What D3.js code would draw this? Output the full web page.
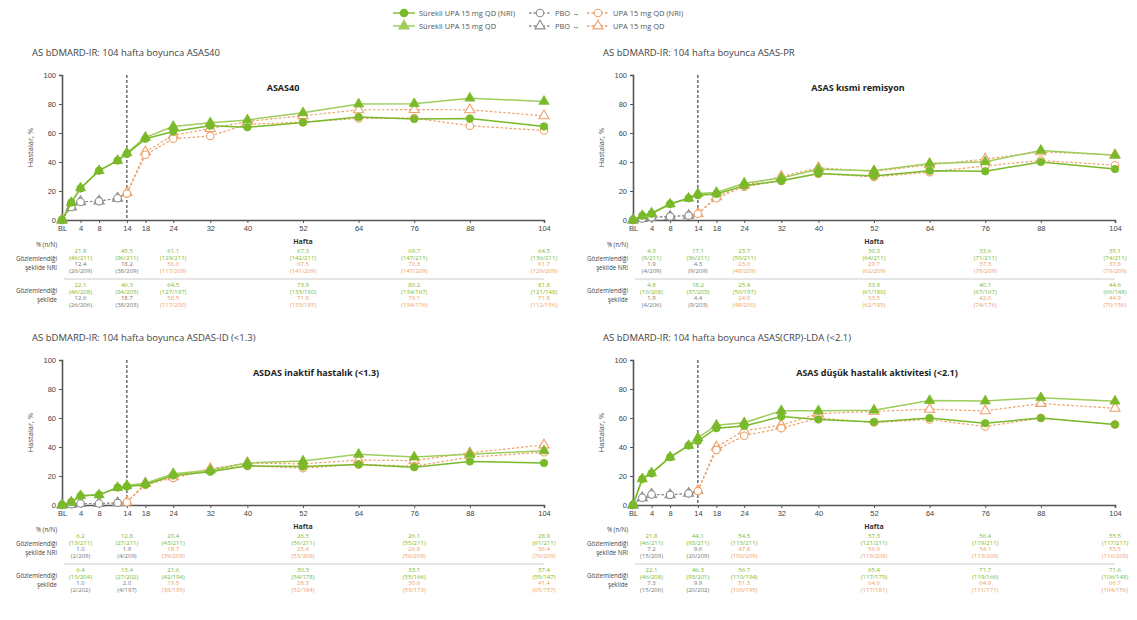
<!DOCTYPE html>
<html>
<head>
<meta charset="utf-8">
<script src="https://cdn.jsdelivr.net/npm/d3@7"></script>
<style>
  body { margin: 0; background: #fff; }
  svg { font-family: "Open Sans", "Liberation Sans", sans-serif; }
  .axis path, .axis line { stroke: #555; }
  .axis text { fill: #444; font-size: 7.5px; }
</style>
</head>
<body>
<div id="chart"></div>
<script>
// hafta ekseni
const weeks = [0, 2, 4, 8, 12, 14, 18, 24, 32, 40, 52, 64, 76, 88, 104];
const tickWeeks = [0, 4, 8, 14, 18, 24, 32, 40, 52, 64, 76, 88, 104];
const tickLabels = ["BL", "4", "8", "14", "18", "24", "32", "40", "52", "64", "76", "88", "104"];
const yTicks = [0, 20, 40, 60, 80, 100];
const tableWeeks = [4, 14, 24, 52, 76, 104];
const switchWeek = 14;

// ASAS40
const asas40UpaNri = [0, 12, 21.8, 34, 41, 45.5, 56, 61.1, 65, 64, 67.3, 71, 69.7, 70, 64.5];
const asas40UpaAo  = [0, 12, 22.1, 34, 41, 46.3, 57, 64.5, 67, 69, 73.9, 80, 80.2, 84, 81.8];
const asas40PboNri = [0, 9, 12.4, 13, 15, 18.2, 45, 56.0, 58, 66, 67.5, 70, 70.3, 65, 61.7];
const asas40PboAo  = [0, 9, 12.6, 13, 15, 18.7, 47, 58.5, 63, 68, 71.9, 76, 76.1, 76, 71.8];
const asas40TblUpaNri = [["21.8", "46/211"], ["45.5", "96/211"], ["61.1", "129/211"], ["67.3", "142/211"], ["69.7", "147/211"], ["64.5", "136/211"]];
const asas40TblPboNri = [["12.4", "26/209"], ["18.2", "38/209"], ["56.0", "117/209"], ["67.5", "141/209"], ["70.3", "147/209"], ["61.7", "129/209"]];
const asas40TblUpaAo  = [["22.1", "46/208"], ["46.3", "94/203"], ["64.5", "127/197"], ["73.9", "133/180"], ["80.2", "134/167"], ["81.8", "121/148"]];
const asas40TblPboAo  = [["12.6", "26/206"], ["18.7", "38/203"], ["58.5", "117/200"], ["71.9", "133/185"], ["76.1", "134/176"], ["71.8", "112/156"]];

// ASAS kısmi remisyon
const asasprUpaNri = [0, 3, 4.3, 11, 15, 17.1, 18, 23.7, 27, 32, 30.3, 34, 33.6, 40, 35.1];
const asasprUpaAo  = [0, 3, 4.8, 11, 15, 18.2, 19, 25.4, 29, 35, 33.9, 39, 40.1, 48, 44.6];
const asasprPboNri = [0, 1, 1.9, 2.5, 3, 4.3, 15, 23.0, 27, 32, 29.7, 33, 37.3, 41, 37.8];
const asasprPboAo  = [0, 1, 1.9, 2.5, 3, 4.4, 16, 24.0, 30, 36, 33.5, 38, 42.0, 47, 44.9];
const asasprTblUpaNri = [["4.3", "9/211"], ["17.1", "36/211"], ["23.7", "50/211"], ["30.3", "64/211"], ["33.6", "71/211"], ["35.1", "74/211"]];
const asasprTblPboNri = [["1.9", "4/209"], ["4.3", "9/209"], ["23.0", "48/209"], ["29.7", "62/209"], ["37.3", "78/209"], ["37.8", "79/209"]];
const asasprTblUpaAo  = [["4.8", "10/208"], ["18.2", "37/203"], ["25.4", "50/197"], ["33.9", "61/180"], ["40.1", "67/167"], ["44.6", "66/148"]];
const asasprTblPboAo  = [["1.9", "4/206"], ["4.4", "9/203"], ["24.0", "48/200"], ["33.5", "62/185"], ["42.0", "74/176"], ["44.9", "70/156"]];

// ASDAS inaktif hastalık
const asdasidUpaNri = [0, 2, 6.2, 7, 12, 12.8, 14, 20.4, 23, 27, 26.5, 28, 26.1, 30, 28.9];
const asdasidUpaAo  = [0, 2, 6.4, 7, 12, 13.4, 15, 21.6, 24, 29, 30.3, 35, 33.1, 35, 37.4];
const asdasidPboNri = [0, 0.5, 1.0, 1, 1.5, 1.9, 14, 18.7, 24, 27, 25.4, 28, 26.8, 33, 36.4];
const asdasidPboAo  = [0, 0.5, 1.0, 1, 1.5, 2.0, 15, 19.5, 25, 29, 28.3, 31, 30.6, 36, 41.4];
const asdasidTblUpaNri = [["6.2", "13/211"], ["12.8", "27/211"], ["20.4", "43/211"], ["26.5", "56/211"], ["26.1", "55/211"], ["28.9", "61/211"]];
const asdasidTblPboNri = [["1.0", "2/209"], ["1.9", "4/209"], ["18.7", "39/209"], ["25.4", "53/209"], ["26.8", "56/209"], ["36.4", "76/209"]];
const asdasidTblUpaAo  = [["6.4", "13/204"], ["13.4", "27/202"], ["21.6", "42/194"], ["30.3", "54/178"], ["33.1", "55/166"], ["37.4", "55/147"]];
const asdasidTblPboAo  = [["1.0", "2/202"], ["2.0", "4/197"], ["19.5", "38/195"], ["28.3", "52/184"], ["30.6", "53/173"], ["41.4", "65/157"]];

// ASDAS düşük hastalık aktivitesi
const asdasldaUpaNri = [0, 18, 21.8, 33, 41, 44.1, 53, 54.5, 61, 59, 57.3, 60, 56.4, 60, 55.5];
const asdasldaUpaAo  = [0, 18, 22.1, 33, 41, 46.3, 55, 56.7, 65, 65, 65.4, 72, 71.7, 74, 71.6];
const asdasldaPboNri = [0, 5, 7.2, 7, 8, 9.6, 38, 47.8, 53, 60, 56.9, 59, 54.1, 60, 55.5];
const asdasldaPboAo  = [0, 5, 7.3, 7, 8, 9.9, 40, 51.3, 55, 63, 64.6, 66, 64.9, 70, 66.7];
const asdasldaTblUpaNri = [["21.8", "46/211"], ["44.1", "93/211"], ["54.5", "115/211"], ["57.3", "121/211"], ["56.4", "119/211"], ["55.5", "117/211"]];
const asdasldaTblPboNri = [["7.2", "15/209"], ["9.6", "20/209"], ["47.8", "100/209"], ["56.9", "119/209"], ["54.1", "113/209"], ["55.5", "116/209"]];
const asdasldaTblUpaAo  = [["22.1", "46/208"], ["46.3", "93/201"], ["56.7", "110/194"], ["65.4", "117/179"], ["71.7", "119/166"], ["71.6", "106/148"]];
const asdasldaTblPboAo  = [["7.3", "15/206"], ["9.9", "20/202"], ["51.3", "100/195"], ["64.6", "117/181"], ["64.9", "111/171"], ["66.7", "104/156"]];

const green = "#7ab929";
const green2 = "#9fcd5c";
const orange = "#eea067";
const grey = "#8c8c8c";

const panels = [
  { head: "AS bDMARD-IR: 104 hafta boyunca ASAS40", inner: "ASAS40", left: 62, top: 75, innerX: 283,
    upaNri: asas40UpaNri, upaAo: asas40UpaAo, pboNri: asas40PboNri, pboAo: asas40PboAo,
    tbl: [asas40TblUpaNri, asas40TblPboNri, asas40TblUpaAo, asas40TblPboAo] },
  { head: "AS bDMARD-IR: 104 hafta boyunca ASAS-PR", inner: "ASAS kısmi remisyon", left: 633, top: 75, innerX: 858,
    upaNri: asasprUpaNri, upaAo: asasprUpaAo, pboNri: asasprPboNri, pboAo: asasprPboAo,
    tbl: [asasprTblUpaNri, asasprTblPboNri, asasprTblUpaAo, asasprTblPboAo] },
  { head: "AS bDMARD-IR: 104 hafta boyunca ASDAS-ID (<1.3)", inner: "ASDAS inaktif hastalık (<1.3)", left: 62, top: 360, innerX: 316,
    upaNri: asdasidUpaNri, upaAo: asdasidUpaAo, pboNri: asdasidPboNri, pboAo: asdasidPboAo,
    tbl: [asdasidTblUpaNri, asdasidTblPboNri, asdasidTblUpaAo, asdasidTblPboAo] },
  { head: "AS bDMARD-IR: 104 hafta boyunca ASAS(CRP)-LDA (<2.1)", inner: "ASAS düşük hastalık aktivitesi (<2.1)", left: 633, top: 360, innerX: 877,
    upaNri: asdasldaUpaNri, upaAo: asdasldaUpaAo, pboNri: asdasldaPboNri, pboAo: asdasldaPboAo,
    tbl: [asdasldaTblUpaNri, asdasldaTblPboNri, asdasldaTblUpaAo, asdasldaTblPboAo] }
];

const W = 1137, H = 620;
const plotW = 482, plotH = 145;

const svg = d3.select("#chart").append("svg")
  .attr("width", W).attr("height", H);

const circleSym = d3.symbol().type(d3.symbolCircle).size(44);
const triSym = d3.symbol().type(d3.symbolTriangle).size(44);

// Legende
function legendItem(x, y, color, dashed, sym, filled, label) {
  const g = svg.append("g").attr("transform", `translate(${x},${y})`);
  g.append("line").attr("x1", 0).attr("x2", 22).attr("y1", 0).attr("y2", 0)
    .attr("stroke", color).attr("stroke-width", 1.4)
    .attr("stroke-dasharray", dashed ? "2.5,2" : null);
  g.append("path").attr("d", sym).attr("transform", "translate(11,0)")
    .attr("fill", filled ? color : "#fff").attr("stroke", color).attr("stroke-width", 1.1);
  g.append("text").attr("x", 26).attr("y", 2.5).attr("font-size", 7.5).attr("fill", "#555").text(label);
}
legendItem(393, 13, green, false, circleSym, true, "Sürekli UPA 15 mg QD (NRI)");
legendItem(393, 26, green2, false, triSym, true, "Sürekli UPA 15 mg QD");
legendItem(529, 13, grey, true, circleSym, false, "PBO →");
legendItem(529, 26, grey, true, triSym, false, "PBO →");
legendItem(587, 13, orange, true, circleSym, false, "UPA 15 mg QD (NRI)");
legendItem(587, 26, orange, true, triSym, false, "UPA 15 mg QD");

panels.forEach(p => {
  const x = d3.scaleLinear().domain([0, 104]).range([p.left, p.left + plotW]);
  const y = d3.scaleLinear().domain([0, 100]).range([p.top + plotH, p.top]);
  const g = svg.append("g");

  g.append("text").attr("x", p.left - 30).attr("y", p.top - 19)
    .attr("font-size", 9.5).attr("fill", "#444").text(p.head);

  g.append("text")
    .attr("transform", `translate(${p.left - 29},${p.top + plotH / 2}) rotate(-90)`)
    .attr("text-anchor", "middle").attr("font-size", 7.5).attr("fill", "#444")
    .text("Hastalar, %");

  g.append("text").attr("x", p.innerX).attr("y", p.top + 16).attr("text-anchor", "middle")
    .attr("font-size", 9).attr("font-weight", "bold").attr("fill", "#222").text(p.inner);

  // Achsen
  g.append("g").attr("class", "axis").attr("transform", `translate(${p.left},0)`)
    .call(d3.axisLeft(y).tickValues(yTicks).tickSize(3).tickPadding(3))
    .call(a => a.select(".domain").attr("stroke-width", 1.6));
  g.append("g").attr("class", "axis").attr("transform", `translate(0,${p.top + plotH})`)
    .call(d3.axisBottom(x).tickValues(tickWeeks).tickFormat((d, i) => tickLabels[i]).tickSize(3).tickPadding(3))
    .call(a => a.select(".domain").attr("stroke-width", 1.6));

  g.append("text").attr("x", (p.left + p.left + plotW) / 2).attr("y", p.top + plotH + 24)
    .attr("text-anchor", "middle").attr("font-size", 7).attr("font-weight", "bold").attr("fill", "#333").text("Hafta");

  // Woche 14
  g.append("line").attr("x1", x(switchWeek)).attr("x2", x(switchWeek))
    .attr("y1", y(100)).attr("y2", y(0))
    .attr("stroke", "#222").attr("stroke-width", 1).attr("stroke-dasharray", "3,2");

  const line = d3.line().x(d => x(d[0])).y(d => y(d[1]));
  const pairs = vals => weeks.map((w, i) => [w, vals[i]]);

  // PBO -> UPA
  [[p.pboAo, triSym], [p.pboNri, circleSym]].forEach(([vals, sym]) => {
    const pts = pairs(vals);
    const pbo = pts.filter(d => d[0] <= switchWeek);
    const upa = pts.filter(d => d[0] >= switchWeek);
    g.append("path").attr("d", line(pbo)).attr("fill", "none")
      .attr("stroke", grey).attr("stroke-width", 1).attr("stroke-dasharray", "2.5,2");
    g.append("path").attr("d", line(upa)).attr("fill", "none")
      .attr("stroke", orange).attr("stroke-width", 1.2).attr("stroke-dasharray", "2.5,2");
    g.selectAll(null).data(pts).join("path")
      .attr("d", sym)
      .attr("transform", d => `translate(${x(d[0])},${y(d[1])})`)
      .attr("fill", "#fff")
      .attr("stroke", d => d[0] < switchWeek ? grey : orange)
      .attr("stroke-width", 1.1);
  });

  // Sürekli UPA
  [[p.upaAo, triSym, green2], [p.upaNri, circleSym, green]].forEach(([vals, sym, col]) => {
    const pts = pairs(vals);
    g.append("path").attr("d", line(pts)).attr("fill", "none")
      .attr("stroke", col).attr("stroke-width", 1.5);
    g.selectAll(null).data(pts).join("path")
      .attr("d", sym)
      .attr("transform", d => `translate(${x(d[0])},${y(d[1])})`)
      .attr("fill", green).attr("stroke", green).attr("stroke-width", 0.8);
  });

  // Tabelle
  const t0 = p.top + plotH;
  const lbl = (txt, yy) => g.append("text").attr("x", p.left - 5).attr("y", yy)
    .attr("text-anchor", "end").attr("font-size", 6.2).attr("fill", "#444").text(txt);
  lbl("% (n/N)", t0 + 27);
  lbl("Gözlemlendiği", t0 + 41);
  lbl("şekilde NRI", t0 + 50);
  lbl("Gözlemlendiği", t0 + 73);
  lbl("şekilde", t0 + 82);

  g.append("line").attr("x1", p.left + 2).attr("x2", p.left + plotW)
    .attr("y1", t0 + 59).attr("y2", t0 + 59).attr("stroke", "#ccc").attr("stroke-width", 1);

  const blocks = [[p.tbl[0], p.tbl[1], t0 + 33], [p.tbl[2], p.tbl[3], t0 + 67]];
  blocks.forEach(([upaRows, pboRows, by]) => {
    tableWeeks.forEach((w, i) => {
      const cx = x(w);
      const pc = w <= switchWeek ? "#777" : orange;
      const rows = [[upaRows[i][0], green], ["(" + upaRows[i][1] + ")", green],
                    [pboRows[i][0], pc], ["(" + pboRows[i][1] + ")", pc]];
      rows.forEach((r, k) => {
        g.append("text").attr("x", cx).attr("y", by + k * 6.5)
          .attr("text-anchor", "middle").attr("font-size", 6).attr("fill", r[1]).text(r[0]);
      });
    });
  });
});
</script>
</body>
</html>
